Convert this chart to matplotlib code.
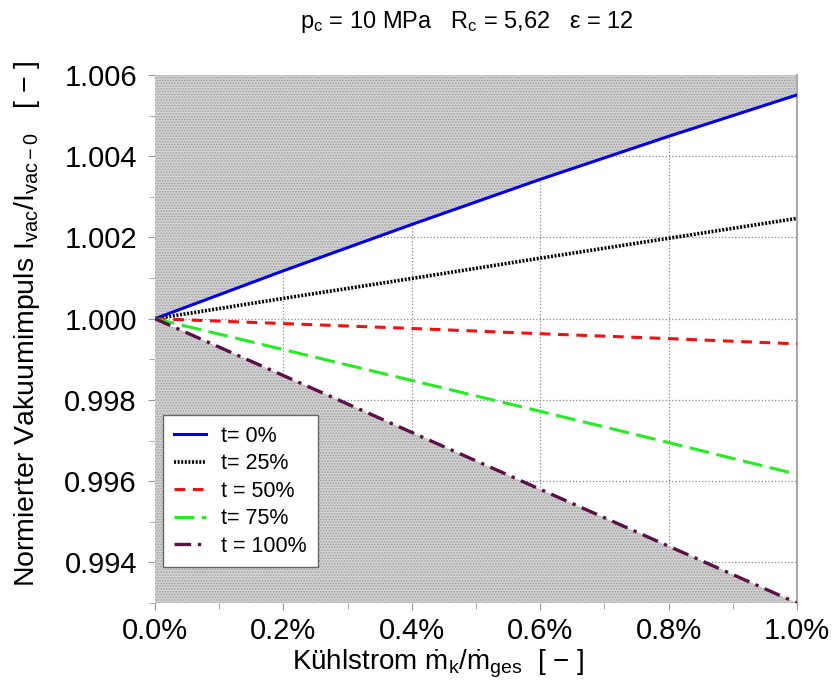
import matplotlib
matplotlib.use("Agg")
import matplotlib.pyplot as plt
import numpy as np
from matplotlib.ticker import MultipleLocator, FuncFormatter

plt.rcParams['font.family'] = ['Liberation Sans', 'DejaVu Sans']
plt.rcParams['mathtext.fontset'] = 'custom'
plt.rcParams['mathtext.rm'] = 'Liberation Sans'
plt.rcParams['mathtext.it'] = 'Liberation Sans:italic'
plt.rcParams['hatch.linewidth'] = 0.8

x_pct = [0.0, 0.2, 0.4, 0.6, 0.8, 1.0]
t0 = [1.0, 1.00118, 1.00232, 1.00343, 1.00449, 1.00551]
t25 = [1.0, 1.00050, 1.00099, 1.00149, 1.00198, 1.00247]
t50 = [1.0, 0.99988, 0.99976, 0.99963, 0.99951, 0.99938]
t75 = [1.0, 0.99924, 0.99848, 0.99772, 0.99695, 0.99617]
t100 = [1.0, 0.99860, 0.99720, 0.99580, 0.99440, 0.99300]
labels = ['t= 0%', 't= 25%', 't = 50%', 't= 75%', 't = 100%']

fig = plt.figure(figsize=(8.32, 6.86), dpi=100)
ax = fig.add_axes([155/832, 1-603/686, (797-155)/832, (603-75)/686])

ymin, ymax = 0.993, 1.006
ax.fill_between(x_pct, t0, ymax, facecolor='#d2d2d2', edgecolor='#a0a0a0', hatch='......', linewidth=0, zorder=1)
ax.fill_between(x_pct, ymin, t100, facecolor='#d2d2d2', edgecolor='#a0a0a0', hatch='......', linewidth=0, zorder=1)

ax.plot(x_pct, t0, color='#0000ee', lw=2.2, ls='-', label=labels[0], zorder=3)
ax.plot(x_pct, t25, color='black', lw=2.6, ls=(0, (0.55, 0.45)), label=labels[1], zorder=3)
ax.plot(x_pct, t50, color='#ee1111', lw=2.2, ls=(0, (3.5, 2.5)), label=labels[2], zorder=3)
ax.plot(x_pct, t75, color='#22ee22', lw=2.2, ls=(0, (6.5, 2.5)), label=labels[3], zorder=3)
ax.plot(x_pct, t100, color='#5c1048', lw=2.4, ls=(0, (5, 2, 1, 2)), label=labels[4], zorder=3)

ax.set_xlim(0, 1.0)
ax.set_ylim(ymin, ymax)
ax.xaxis.set_major_locator(MultipleLocator(0.2))
ax.xaxis.set_minor_locator(MultipleLocator(0.1))
ax.yaxis.set_major_locator(MultipleLocator(0.002))
ax.yaxis.set_minor_locator(MultipleLocator(0.001))
ax.xaxis.set_major_formatter(FuncFormatter(lambda v, p: f"{v:.1f}%"))
ax.yaxis.set_major_formatter(FuncFormatter(lambda v, p: f"{v:.3f}"))
ax.tick_params(which='both', direction='out', color='#999999', labelsize=21)
ax.tick_params(which='major', length=5)
ax.tick_params(which='minor', length=4)
ax.tick_params(axis='x', pad=5)
ax.tick_params(axis='y', pad=8)
ax.grid(True, which='major', ls=':', color='#888888', lw=0.9, zorder=0)
ax.set_axisbelow(True)
for s in ['left', 'top', 'bottom']:
    ax.spines[s].set_visible(False)
ax.spines['right'].set_color('#aaaaaa')
ax.spines['right'].set_linewidth(1.5)

ax.set_xlabel(r"Kühlstrom ṁ$_\mathregular{k}$/ṁ$_\mathregular{ges}$  [ − ]", fontsize=20, labelpad=4)
ax.xaxis.set_label_coords((438-155)/642, -0.085)
ax.set_ylabel(r"Normierter Vakuumimpuls I$_\mathregular{vac}$/I$_\mathregular{vac−0}$   [ − ]", fontsize=20.5)
ax.yaxis.set_label_coords(-(155-42)/642, (603-324)/528)
fig.text(467/832, 1-22/686, r"p$_\mathregular{c}$ = 10 MPa   R$_\mathregular{c}$ = 5,62   ε = 12",
         ha='center', va='center', fontsize=17)

leg = ax.legend(loc='upper left', bbox_to_anchor=(8/642, 1-340/528), fontsize=15.5, frameon=True,
                fancybox=False, edgecolor='#666666', framealpha=1, handlelength=1.5,
                borderpad=0.5, labelspacing=0.3, handletextpad=0.7, borderaxespad=0)
leg.get_frame().set_linewidth(1.0)
leg.set_zorder(5)

fig.savefig('out.png', dpi=100)
